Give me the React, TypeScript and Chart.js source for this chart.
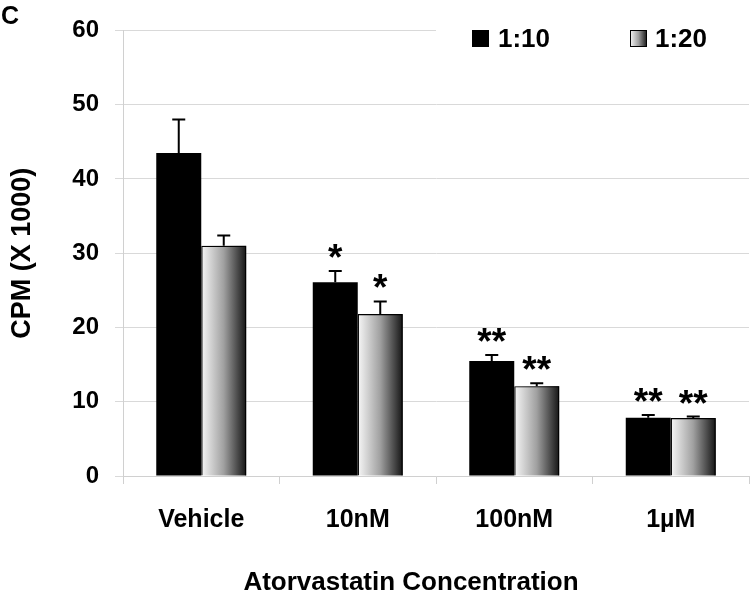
import React, { useEffect, useRef } from "react";
import { Chart, registerables } from "chart.js";

Chart.register(...registerables);

const categories = ["Vehicle", "10nM", "100nM", "1µM"];
const seriesNames = ["1:10", "1:20"];
const values110 = [43.5, 26.1, 15.5, 7.85];
const values120 = [31.0, 21.8, 12.1, 7.8];
const errors110 = [4.5, 1.5, 0.8, 0.35];
const errors120 = [1.4, 1.7, 0.4, 0.2];
const sig110 = ["", "*", "**", "**"];
const sig120 = ["", "*", "**", "**"];
const yTicks = [0, 10, 20, 30, 40, 50, 60];
const yTitle = "CPM (X 1000)";
const xTitle = "Atorvastatin Concentration";
const panelLabel = "C";

const FONT = '"Liberation Sans", Arial, Helvetica, sans-serif';

const customPlugin = {
  id: "customDraw",
  beforeDatasetsDraw(chart: any) {
    const ctx = chart.ctx;
    const meta = chart.getDatasetMeta(1);
    meta.data.forEach((bar: any) => {
      const { x, y, base, width } = bar.getProps(["x", "y", "base", "width"], true);
      const left = x - width / 2;
      const g = ctx.createLinearGradient(left, 0, left + width, 0);
      g.addColorStop(0, "#f7f7f7");
      g.addColorStop(0.5, "#a0a0a0");
      g.addColorStop(1, "#151515");
      ctx.save();
      ctx.fillStyle = g;
      ctx.fillRect(left, y, width, base - y);
      ctx.restore();
    });
  },
  afterDatasetsDraw(chart: any) {
    const ctx = chart.ctx;
    const yScale = chart.scales.y;
    const errs = [errors110, errors120];
    const vals = [values110, values120];
    const sigs = [sig110, sig120];
    ctx.save();
    [0, 1].forEach((di) => {
      const meta = chart.getDatasetMeta(di);
      meta.data.forEach((bar: any, i: number) => {
        const { x, y } = bar.getProps(["x", "y"], true);
        const top = yScale.getPixelForValue(vals[di][i] + errs[di][i]);
        ctx.strokeStyle = "#000";
        ctx.lineWidth = 2;
        ctx.beginPath();
        ctx.moveTo(x, y);
        ctx.lineTo(x, top);
        ctx.moveTo(x - 6.5, top);
        ctx.lineTo(x + 6.5, top);
        ctx.stroke();
        const s = sigs[di][i];
        if (s) {
          ctx.fillStyle = "#000";
          ctx.font = `bold 37px ${FONT}`;
          ctx.textAlign = "center";
          ctx.textBaseline = "alphabetic";
          ctx.fillText(s, x, top - 1);
        }
      });
    });

    // legend
    ctx.fillStyle = "#fff";
    ctx.fillRect(436, 0, 314, 60);
    ctx.fillStyle = "#000";
    ctx.fillRect(472, 30, 17, 17);
    const lg = ctx.createLinearGradient(630, 0, 647, 0);
    lg.addColorStop(0, "#f7f7f7");
    lg.addColorStop(0.5, "#a0a0a0");
    lg.addColorStop(1, "#151515");
    ctx.fillStyle = lg;
    ctx.fillRect(630, 30, 17, 17);
    ctx.strokeStyle = "#000";
    ctx.lineWidth = 1;
    ctx.strokeRect(630.5, 30.5, 16, 16);
    ctx.fillStyle = "#000";
    ctx.font = `bold 26px ${FONT}`;
    ctx.textAlign = "left";
    ctx.textBaseline = "alphabetic";
    ctx.fillText(seriesNames[0], 498, 47);
    ctx.fillText(seriesNames[1], 655, 47);

    // x title
    ctx.textAlign = "center";
    ctx.fillText(xTitle, 411, 590);

    // panel label
    ctx.font = `bold 25px ${FONT}`;
    ctx.textAlign = "left";
    ctx.fillText(panelLabel, 1, 24);
    ctx.restore();
  },
};

export default function App() {
  const ref = useRef<HTMLCanvasElement>(null);
  useEffect(() => {
    document.body.style.margin = "0";
    const chart = new Chart(ref.current as HTMLCanvasElement, {
      type: "bar",
      data: {
        labels: categories,
        datasets: [
          {
            label: seriesNames[0],
            data: values110,
            backgroundColor: "#000",
            borderColor: "#000",
            borderWidth: 0,
            categoryPercentage: 0.575,
            barPercentage: 1,
          },
          {
            label: seriesNames[1],
            data: values120,
            backgroundColor: "rgba(0,0,0,0)",
            borderColor: "#000",
            borderWidth: 1.2,
            categoryPercentage: 0.575,
            barPercentage: 1,
          },
        ],
      },
      options: {
        responsive: false,
        animation: false,
        devicePixelRatio: 1,
        layout: { padding: { top: 23, right: 1, left: 0, bottom: 0 } },
        plugins: {
          legend: { display: false },
          tooltip: { enabled: false },
        },
        scales: {
          x: {
            offset: true,
            grid: {
              display: true,
              drawOnChartArea: false,
              offset: true,
              tickLength: 8,
              color: "#d0d0d0",
            },
            border: { color: "#d0d0d0" },
            ticks: {
              font: { family: FONT, size: 25, weight: "bold" },
              color: "#000",
              padding: 21,
              maxRotation: 0,
              autoSkip: false,
            },
            afterFit: (s: any) => {
              s.height = 118;
            },
          },
          y: {
            min: 0,
            max: 60,
            afterBuildTicks: (s: any) => {
              s.ticks = yTicks.map((v) => ({ value: v }));
            },
            afterFit: (s: any) => {
              s.width = 123;
            },
            grid: { color: "#d9d9d9", lineWidth: 1, tickLength: 8, drawTicks: true },
            border: { color: "#d0d0d0" },
            ticks: {
              font: { family: FONT, size: 24, weight: "bold" },
              color: "#000",
              padding: 16,
            },
            title: {
              display: true,
              text: yTitle,
              color: "#000",
              font: { family: FONT, size: 27, weight: "bold" },
              padding: { top: 6, bottom: 0 },
            },
          },
        },
      } as any,
      plugins: [customPlugin],
    });
    return () => chart.destroy();
  }, []);
  return (
    <div style={{ position: "absolute", left: 0, top: 0, width: 750, height: 594 }}>
      <canvas ref={ref} width={750} height={594} style={{ display: "block" }} />
    </div>
  );
}
